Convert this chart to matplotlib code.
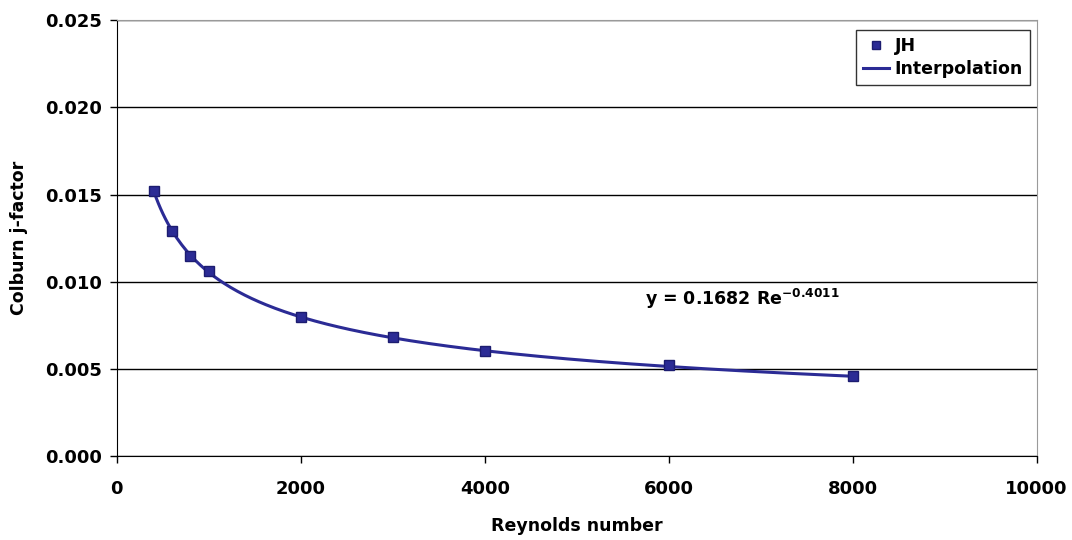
import numpy as np
import matplotlib
matplotlib.use("Agg")
import matplotlib.pyplot as plt

# Colburn j-factor measurements
reynolds = [400, 600, 800, 1000, 2000, 3000, 4000, 6000, 8000]
jh = [0.0152, 0.0129, 0.0115, 0.0106, 0.0080, 0.0068, 0.0060, 0.0052, 0.0046]

# power-law fit y = a * Re^b
fit_a, fit_b = 0.1682, -0.4011

NAVY = "#2b2b95"

plt.rcParams["font.family"] = "DejaVu Sans"
plt.rcParams["font.weight"] = "bold"

fig = plt.figure(figsize=(10.72, 5.4), dpi=100)
ax = fig.add_axes([0.109, 0.1556, 0.858, 0.807])

re_fit = np.linspace(min(reynolds), max(reynolds), 300)
ax.plot(re_fit, fit_a * re_fit ** fit_b, color=NAVY, lw=2.2, label="Interpolation", zorder=3)
ax.plot(reynolds, jh, ls="none", marker="s", ms=7, color=NAVY, mec="#1c1c70",
        label="JH", zorder=4)

ax.set_xlim(0, 10000)
ax.set_ylim(0, 0.025)
ax.set_xticks(np.arange(0, 10001, 2000))
ax.set_yticks(np.arange(0, 0.0251, 0.005))
ax.yaxis.set_major_formatter(matplotlib.ticker.FormatStrFormatter("%.3f"))
ax.grid(axis="y", color="black", lw=1)
ax.set_axisbelow(True)
ax.tick_params(direction="out", length=5, width=1, labelsize=13, pad=6)
ax.tick_params(axis="x", pad=12)

for side in ("top", "right"):
    ax.spines[side].set_color("#9a9a9a")
for side in ("left", "bottom"):
    ax.spines[side].set_color("black")

ax.set_xlabel("Reynolds number", fontsize=12.5, fontweight="bold", labelpad=14)
ax.set_ylabel("Colburn j-factor", fontsize=12.5, fontweight="bold", labelpad=12)

ax.text(5740, 0.0090, r"y = 0.1682 Re$^{\mathbf{-0.4011}}$", fontsize=12.5, fontweight="bold",
        ha="left", va="center")

handles, labels = ax.get_legend_handles_labels()
leg = ax.legend(handles[::-1], labels[::-1], loc="upper right", bbox_to_anchor=(1.002, 0.998),
                fontsize=12.5, frameon=True, fancybox=False, edgecolor="black",
                handlelength=1.5, handletextpad=0.3, borderpad=0.4, labelspacing=0.3,
                markerscale=0.85)
leg.get_frame().set_linewidth(1)

fig.savefig("out.png", dpi=100)
